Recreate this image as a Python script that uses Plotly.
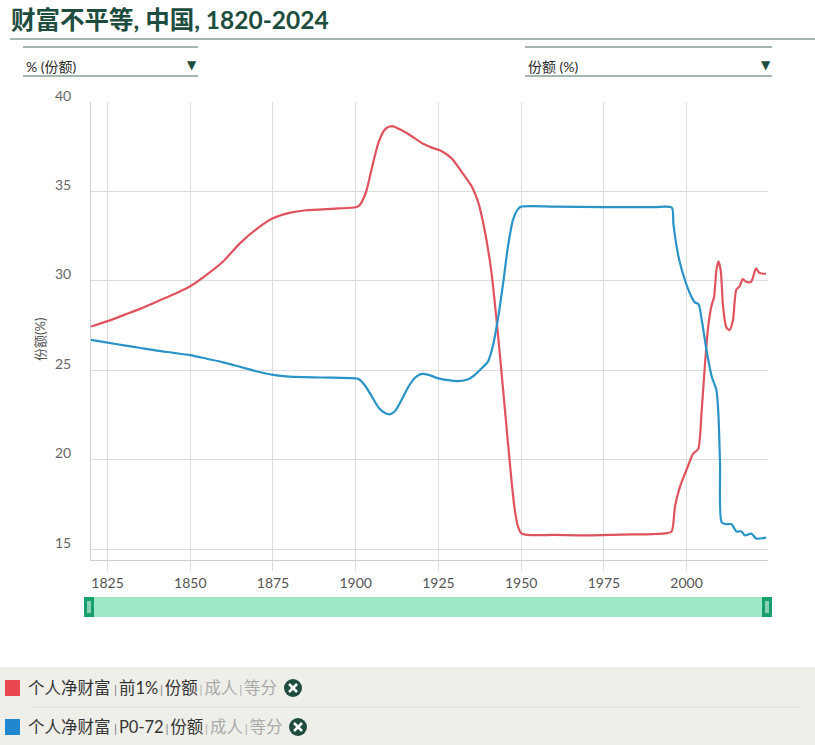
import plotly.graph_objects as go

# ---------------- data ----------------
red_years = [1820, 1825, 1830, 1835, 1840, 1845, 1850, 1855, 1860, 1865, 1870, 1875, 1880, 1885, 1890, 1895,
             1900, 1901, 1903, 1905, 1907, 1909, 1911, 1913, 1916, 1920, 1923, 1926, 1929, 1932, 1935, 1937,
             1939, 1941, 1943, 1945, 1947, 1948, 1949, 1950, 1952, 1960, 1970, 1980, 1990, 1994, 1995.5,
             1996.5, 1998, 2000, 2002, 2003.5, 2004.5, 2005.5, 2006.5, 2007.5, 2008.3, 2009, 2009.6, 2010.3,
             2011, 2012, 2013, 2014, 2015, 2016, 2017, 2018, 2019.5, 2021, 2022, 2024]
red_vals = [27.45, 27.75, 28.1, 28.45, 28.85, 29.25, 29.7, 30.35, 31.1, 32.1, 32.9, 33.5, 33.8, 33.95, 34.0, 34.05,
            34.12, 34.2, 34.9, 36.4, 37.8, 38.5, 38.65, 38.5, 38.2, 37.7, 37.45, 37.25, 36.85, 36.1, 35.3, 34.4,
            32.8, 30.5, 27.0, 23.0, 19.0, 17.3, 16.3, 15.9, 15.8, 15.8, 15.78, 15.82, 15.85, 15.9, 16.0,
            17.4, 18.5, 19.45, 20.35, 20.6, 22.6, 25.2, 27.4, 28.6, 29.1, 30.6, 31.1, 30.6,
            28.6, 27.4, 27.25, 27.8, 29.5, 29.7, 30.1, 29.95, 29.95, 30.7, 30.45, 30.4]

blue_years = [1820, 1825, 1830, 1835, 1840, 1845, 1850, 1855, 1860, 1865, 1870, 1875, 1880, 1890, 1900, 1901,
              1903, 1905, 1907, 1909, 1910.5, 1912, 1914, 1916, 1918, 1920, 1922, 1925, 1928, 1931, 1934, 1936,
              1938, 1940, 1941.5, 1943, 1944.5, 1946, 1947.5, 1949, 1950, 1960, 1975, 1990, 1995.5, 1996, 1997,
              1998, 1999.5, 2001, 2002.5, 2003.6, 2004.6, 2006, 2007.6, 2009, 2009.6, 2010.1, 2010.6, 2012,
              2013.6, 2015, 2016.6, 2017.6, 2019.6, 2021, 2024]
blue_vals = [26.7, 26.55, 26.4, 26.25, 26.1, 25.98, 25.85, 25.65, 25.45, 25.2, 24.95, 24.75, 24.65, 24.6, 24.55, 24.5,
             24.1, 23.5, 22.9, 22.6, 22.55, 22.75, 23.4, 24.1, 24.6, 24.8, 24.75, 24.55, 24.45, 24.4, 24.5, 24.75,
             25.1, 25.5, 26.4, 27.9, 29.8, 31.9, 33.4, 34.0, 34.15, 34.15, 34.12, 34.12, 34.1, 33.2, 31.9,
             31.0, 30.05, 29.3, 28.8, 28.7, 27.8, 26.15, 24.65, 23.9, 22.6, 19.8, 16.5, 16.4,
             16.4, 16.0, 16.0, 15.78, 15.87, 15.6, 15.65]

x_ticks = [1825, 1850, 1875, 1900, 1925, 1950, 1975, 2000]
y_ticks = [15, 20, 25, 30, 35, 40]

title_text = "财富不平等, 中国, 1820-2024"
left_dropdown = "% (份额)"
right_dropdown = "份额 (%)"
y_title = "份额(%)"
legend_rows = [
    ("#e8474f", "个人净财富", "前1%", "份额", "成人", "等分"),
    ("#1f88d0", "个人净财富", "P0-72", "份额", "成人", "等分"),
]

RED = "#e0535d"
BLUE = "#2a94c8"
DARK = "#1e4d3f"
GRID = "#dcdcdc"
FONT = "Lato, 'Noto Sans CJK SC', sans-serif"

W, H = 815, 745
L, R, T, B = 91, 47, 102, 185
PW, PH = W - L - R, H - T - B


def px(x):
    return (x - L) / PW


def py(y):
    return 1 - (y - T) / PH


fig = go.Figure()
fig.add_trace(go.Scatter(x=red_years, y=red_vals, mode="lines",
                         line=dict(color=RED, width=2.2, shape="spline", smoothing=0.7),
                         showlegend=False, hoverinfo="x+y"))
fig.add_trace(go.Scatter(x=blue_years, y=blue_vals, mode="lines",
                         line=dict(color=BLUE, width=2.2, shape="spline", smoothing=0.7),
                         showlegend=False, hoverinfo="x+y"))

shapes = []
annotations = []

# title and rule
annotations.append(dict(text="<b>" + title_text + "</b>", xref="paper", yref="paper", x=px(9), y=py(20),
                        xanchor="left", yanchor="middle", showarrow=False,
                        font=dict(size=24.5, color=DARK, family=FONT)))
shapes.append(dict(type="line", xref="paper", yref="paper", x0=px(10), x1=px(815), y0=py(39), y1=py(39),
                   line=dict(color="#4a6e62", width=1.2)))

# dropdowns
for (x0, x1, label) in [(23, 198, left_dropdown), (525, 772, right_dropdown)]:
    for yy in (47, 76):
        shapes.append(dict(type="line", xref="paper", yref="paper", x0=px(x0), x1=px(x1), y0=py(yy), y1=py(yy),
                           line=dict(color="#4a6e62", width=1.2)))
    annotations.append(dict(text=label, xref="paper", yref="paper", x=px(x0 + 1), y=py(66), xanchor="left",
                            yanchor="middle", showarrow=False, font=dict(size=14, color="#2a2a2a", family=FONT)))
    annotations.append(dict(text="▼", xref="paper", yref="paper", x=px(x1 - 6), y=py(65), xanchor="center",
                            yanchor="middle", showarrow=False, font=dict(size=12, color=DARK, family="DejaVu Sans")))

# y tick labels (shifted above gridlines)
for v in y_ticks:
    annotations.append(dict(text=str(v), xref="paper", yref="y", x=px(73), y=v, xanchor="right", yanchor="middle",
                            yshift=7, showarrow=False, font=dict(size=14, color="#666", family=FONT)))

# y title
annotations.append(dict(text=y_title, xref="paper", yref="paper", x=px(40), y=py(340), textangle=-90,
                        xanchor="center", yanchor="middle", showarrow=False,
                        font=dict(size=13, color="#555", family=FONT)))

# range slider look-alike
shapes.append(dict(type="rect", xref="paper", yref="paper", x0=px(84), x1=px(772), y0=py(597), y1=py(617),
                   fillcolor="#9ee7c6", line=dict(width=0), layer="above"))
for hx in (84, 762):
    shapes.append(dict(type="rect", xref="paper", yref="paper", x0=px(hx), x1=px(hx + 10), y0=py(597),
                       y1=py(617), fillcolor="#17a06c", line=dict(width=0), layer="above"))
    for dx in (4, 6):
        shapes.append(dict(type="line", xref="paper", yref="paper", x0=px(hx + dx), x1=px(hx + dx), y0=py(601),
                           y1=py(613), line=dict(color="white", width=1), layer="above"))

# legend panel
shapes.append(dict(type="rect", xref="paper", yref="paper", x0=px(0), x1=px(815), y0=py(667), y1=py(745),
                   fillcolor="#efefea", line=dict(width=0), layer="below"))
shapes.append(dict(type="line", xref="paper", yref="paper", x0=px(32), x1=px(800), y0=py(707), y1=py(707),
                   line=dict(color="#dcdcd5", width=1), layer="above"))
SP = "<span style='font-size:7px'> </span>"
for i, (col, a, b, c, d, e) in enumerate(legend_rows):
    yc = 688 + i * 39
    shapes.append(dict(type="rect", xref="paper", yref="paper", x0=px(5), x1=px(20), y0=py(yc - 8),
                       y1=py(yc + 8), fillcolor=col, line=dict(width=0), layer="above"))
    sep_dark = SP + "<span style='font-size:12px;color:#777'>|</span>" + SP
    sep_light = SP + "<span style='font-size:12px;color:#aaa'>|</span>" + SP
    txt = (a + SP + sep_dark + b + sep_dark + c + sep_light + "<span style='color:#aaa'>" + d + "</span>"
           + sep_light + "<span style='color:#aaa'>" + e + "</span>")
    annotations.append(dict(text=txt, xref="paper", yref="paper", x=px(26), y=py(yc), xanchor="left",
                            yanchor="middle", showarrow=False, font=dict(size=16.5, color="#333", family=FONT)))
    cx = 293 + i * 5
    shapes.append(dict(type="circle", xref="paper", yref="paper", x0=px(cx - 9), x1=px(cx + 9), y0=py(yc - 9),
                       y1=py(yc + 9), fillcolor=DARK, line=dict(width=0), layer="above"))
    for (a0, b0, a1, b1) in [(-4, -4, 4, 4), (-4, 4, 4, -4)]:
        shapes.append(dict(type="line", xref="paper", yref="paper", x0=px(cx + a0), x1=px(cx + a1),
                           y0=py(yc + b0), y1=py(yc + b1), line=dict(color="white", width=2.5), layer="above"))

fig.update_layout(
    width=W, height=H, margin=dict(l=L, r=R, t=T, b=B),
    paper_bgcolor="white", plot_bgcolor="white",
    font=dict(family=FONT, color="#555"),
    shapes=shapes, annotations=annotations, showlegend=False,
    xaxis=dict(range=[1820, 2024.6], tickvals=x_ticks, ticktext=[str(t) for t in x_ticks],
               showgrid=True, gridcolor=GRID, gridwidth=1, zeroline=False,
               showline=True, linecolor="#cfcfcf", linewidth=1,
               ticks="outside", ticklen=10, tickcolor=GRID,
               tickfont=dict(size=14, color="#555", family=FONT)),
    yaxis=dict(range=[14.4, 40], tickvals=y_ticks, showticklabels=False,
               showgrid=True, gridcolor=GRID, gridwidth=1, zeroline=False,
               showline=True, linecolor="#cfcfcf", linewidth=1, ticks=""),
)

fig.write_html("out.html", config={"displayModeBar": False},
               post_script="document.body.style.margin='0';")
